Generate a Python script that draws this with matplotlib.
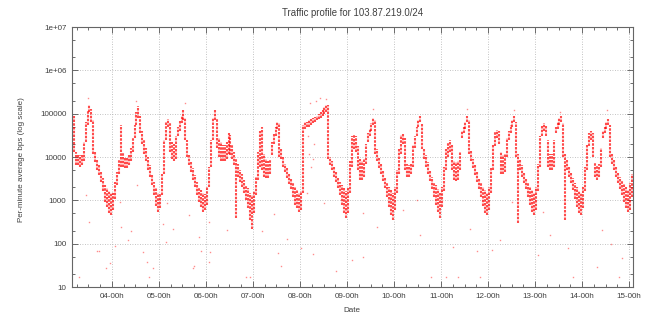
import matplotlib.pyplot as plt
import numpy as np
from matplotlib.ticker import LogLocator, NullFormatter, MultipleLocator

# hourly lower / upper edge of the point cloud (bps), one row per day
lo = [
    46000, 13000, 6500, 6500, 6000, 6500, 8000, 22000, 55000, 110000, 65000, 12000, 7700, 5000, 3800, 2600, 1600, 900, 700, 500, 450,  # 03 (from 03h)
    600, 1100, 2200, 4000, 6000, 6000, 5500, 5500, 6500, 8000, 13000, 27000, 55000, 80000, 35000, 20000, 12000, 8000, 5000, 3500, 2200, 1300, 750, 550,  # 04
    650, 1300, 4000, 25000, 50000, 13000, 9000, 8000, 9000, 30000, 40000, 60000, 70000, 25000, 10000, 6500, 4500, 3000, 2000, 1300, 900, 700, 550, 600,  # 05
    800, 2000, 6000, 25000, 70000, 16000, 10000, 8000, 8000, 8000, 9000, 12000, 11000, 9000, 6500, 400, 3500, 2600, 2000, 1500, 1000, 650, 350, 220,  # 06
    500, 1300, 3000, 6000, 5000, 3500, 3200, 3200, 4000, 11000, 20000, 30000, 45000, 10000, 9000, 6000, 4500, 3200, 2400, 1800, 1200, 800, 650, 550,  # 07
    600, 1500, 45000, 48000, 50000, 55000, 60000, 65000, 70000, 75000, 80000, 90000, 100000, 110000, 9000, 6500, 5000, 3500, 2600, 1900, 1300, 800, 500, 400,  # 08
    500, 1500, 6000, 15000, 13000, 5000, 3000, 3000, 3500, 7000, 22000, 30000, 40000, 55000, 12000, 8000, 5500, 4000, 2800, 1900, 1200, 700, 450, 350,  # 09
    600, 1500, 4000, 12000, 20000, 5000, 3500, 3500, 4000, 6000, 16000, 30000, 50000, 65000, 15000, 9000, 6000, 4000, 2800, 1800, 1200, 800, 550, 400,  # 10
    700, 1600, 5000, 10000, 13000, 5000, 3000, 2800, 3000, 5000, 27000, 35000, 45000, 65000, 12000, 8000, 5500, 3800, 2600, 1800, 1200, 750, 500, 450,  # 11
    600, 1500, 5000, 18000, 27000, 20000, 4000, 4000, 4500, 10000, 25000, 35000, 50000, 65000, 10000, 300, 5000, 3500, 2500, 1800, 1200, 800, 550, 450,  # 12
    600, 1600, 6000, 30000, 40000, 30000, 6000, 5000, 5000, 6000, 35000, 45000, 55000, 65000, 10000, 350, 5000, 3500, 2500, 1700, 1100, 700, 500, 450,  # 13
    650, 1600, 5000, 18000, 25000, 10000, 3500, 3000, 3500, 6000, 27000, 35000, 45000, 55000, 10000, 7000, 5000, 3500, 2500, 1800, 1300, 900, 650, 550,  # 14
    600, 1200,  # 15
]
hi = [
    100000, 90000, 13000, 12000, 11000, 12000, 22000, 65000, 120000, 160000, 130000, 70000, 13000, 9000, 6500, 4500, 3200, 2200, 1900, 1600, 1500,  # 03
    1500, 2600, 4500, 9000, 55000, 13000, 10000, 10000, 12000, 16000, 27000, 55000, 110000, 150000, 90000, 40000, 25000, 16000, 10000, 6500, 4000, 2600, 1900, 1500,  # 04
    1500, 4000, 25000, 65000, 75000, 60000, 22000, 20000, 30000, 50000, 70000, 90000, 120000, 80000, 25000, 12000, 8000, 5500, 3800, 2600, 2000, 1700, 1500, 1400,  # 05
    2000, 6000, 25000, 80000, 120000, 80000, 27000, 22000, 19000, 19000, 22000, 35000, 32000, 19000, 13000, 9000, 7000, 5000, 4000, 3000, 2200, 1900, 1500, 1300,  # 06
    1600, 3500, 13000, 40000, 50000, 12000, 9000, 8000, 9000, 22000, 35000, 50000, 65000, 60000, 16000, 10000, 7000, 5500, 4000, 3200, 2500, 2000, 1700, 1500,  # 07
    1600, 55000, 65000, 65000, 70000, 75000, 80000, 85000, 90000, 100000, 110000, 120000, 140000, 160000, 160000, 10000, 8000, 6000, 4500, 3500, 2600, 2200, 1900, 1600,  # 08
    2000, 8000, 30000, 32000, 30000, 18000, 9000, 8000, 9000, 20000, 35000, 45000, 60000, 80000, 70000, 15000, 10000, 7000, 5000, 3500, 2600, 2000, 1700, 1500,  # 09
    2000, 5000, 15000, 32000, 35000, 27000, 7000, 6500, 7000, 19000, 30000, 50000, 70000, 90000, 60000, 16000, 11000, 7500, 5000, 3500, 2600, 2200, 1800, 1500,  # 10
    2000, 6000, 15000, 22000, 25000, 19000, 8000, 7500, 8000, 13000, 40000, 50000, 65000, 90000, 70000, 14000, 9000, 6500, 4500, 3200, 2500, 2000, 1700, 1500,  # 11
    2000, 6000, 20000, 38000, 42000, 40000, 13000, 11000, 12000, 27000, 40000, 55000, 70000, 90000, 65000, 12000, 9000, 6500, 4500, 3200, 2500, 2000, 1700, 1500,  # 12
    2000, 7000, 30000, 55000, 60000, 55000, 25000, 12000, 12000, 25000, 50000, 65000, 80000, 90000, 60000, 12000, 8500, 6000, 4500, 3200, 2500, 2000, 1600, 1500,  # 13
    2000, 6000, 20000, 35000, 40000, 35000, 7500, 6500, 7000, 16000, 40000, 50000, 65000, 75000, 55000, 12000, 8500, 6000, 4500, 3500, 2800, 2400, 2000, 1700,  # 14
    2500, 4000,  # 15
]
first_hour = 3 * 24 + 3  # 03-03h

# stray minutes away from the main cloud (day, bps)
out_t = [3.304, 3.447, 3.517, 3.674, 3.730, 3.872, 3.951, 4.064, 4.191, 4.170, 4.347, 4.404,
         4.526, 4.666, 4.751, 4.794, 4.879, 5.091, 5.164, 5.143, 5.304, 5.632, 5.717, 5.751,
         5.851, 5.894, 6.070, 6.085, 6.072, 6.440, 6.851, 6.936, 7.185, 7.447, 7.526, 7.596,
         7.717, 8.021, 8.155, 8.270, 8.511, 8.760, 9.100, 9.347, 9.334, 9.632, 10.185, 10.553,
         10.483, 10.787, 11.106, 11.368, 11.262, 11.617, 11.760, 11.830, 12.079, 12.255, 12.504,
         13.070, 13.177, 13.319, 13.709, 13.802, 14.313, 14.419, 14.611, 14.794, 14.845,
         3.489, 4.511, 5.553, 8.213, 8.340, 8.426, 8.553, 9.547, 11.547, 12.547, 13.532, 14.525,
         8.17, 8.20, 8.23, 8.28, 8.30]
out_v = [17, 1300, 318, 67, 67, 27, 36, 87, 245, 910, 120, 200,
         2200, 65, 37, 17, 27, 290, 850, 110, 213, 460, 28, 31,
         140, 67, 38, 65, 318, 205, 17, 17, 200, 480, 60, 31,
         130, 78, 1450, 57, 870, 24, 42, 500, 50, 245, 590, 155,
         1000, 17, 17, 17, 85, 213, 69, 17, 71, 120, 930,
         55, 540, 155, 78, 17, 29, 210, 100, 17, 46,
         230000, 200000, 180000, 180000, 200000, 230000, 220000, 130000, 130000, 120000, 110000, 120000,
         30000, 12000, 6000, 9000, 20000]

day_ticks = [4, 5, 6, 7, 8, 9, 10, 11, 12, 13, 14, 15]
day_labels = ['04-00h', '05-00h', '06-00h', '07-00h', '08-00h', '09-00h',
              '10-00h', '11-00h', '12-00h', '13-00h', '14-00h', '15-00h']
y_ticks = [10, 100, 1000, 10000, 100000, 1e6, 1e7]
y_labels = ['10', '100', '1000', '10000', '100000', '1e+06', '1e+07']

plt.rcParams['font.family'] = ['Liberation Sans', 'DejaVu Sans']
plt.rcParams['font.size'] = 5.8
plt.rcParams['text.color'] = '#404040'

fig = plt.figure(figsize=(6.56, 3.2), dpi=100)
ax = fig.add_axes([72 / 656, 33 / 320, 561 / 656, 260 / 320])

t = (first_hour + np.arange(len(lo)) + 0.5) / 24
# broken vertical spans give the speckled look of per-minute points
ax.vlines(t, lo, hi, color='#ff0000', alpha=0.7, lw=1.5, ls=(0, (1.2, 0.6)))
ax.plot(out_t, out_v, 's', ms=1.0, mew=0, color='#ff0000', alpha=0.45)

ax.set_yscale('log')
ax.set_ylim(10, 1e7)
ax.set_xlim(3.149, 15.085)
ax.set_yticks(y_ticks, y_labels)
ax.yaxis.set_minor_locator(LogLocator(subs=(2, 5), numticks=20))
ax.yaxis.set_minor_formatter(NullFormatter())
ax.set_xticks(day_ticks, day_labels)
ax.xaxis.set_minor_locator(MultipleLocator(0.25))

ax.grid(True, which='major', color='#b0b0b0', ls=(0, (1, 2)), lw=0.6)
ax.tick_params(which='both', direction='in', top=True, right=True,
               colors='#555555', labelcolor='#404040', width=0.6)
ax.tick_params(which='major', length=4, pad=4)
ax.tick_params(which='minor', length=2)
for s in ax.spines.values():
    s.set_color('#666666')
    s.set_linewidth(0.8)

ax.set_title('Traffic profile for 103.87.219.0/24', pad=8, color='#404040')
fig.text(22 / 656, 0.5, 'Per-minute average bps (log scale)', rotation=90,
         ha='center', va='center')
fig.text(352 / 656, 1 - 310 / 320, 'Date', ha='center', va='center')

fig.savefig('out.png', dpi=100)
